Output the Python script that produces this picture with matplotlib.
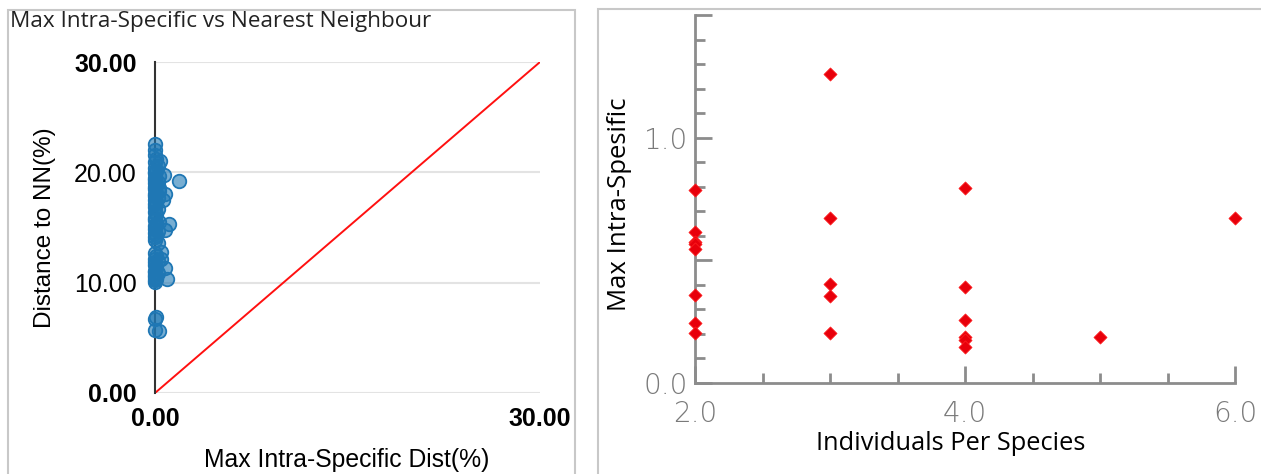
import matplotlib.pyplot as plt
from matplotlib.patches import Rectangle

# ---------------------------------------------------------------------------
# Data: left panel (max intra-specific vs nearest neighbour distance, %)
# ---------------------------------------------------------------------------
nn_x = [0.0, 0.0, 0.0, 0.1, 0.0, 0.2, 0.0, 0.1, 0.0, 0.3, 0.0, 0.0, 0.2, 0.1,
        0.0, 0.0, 0.3, 0.1, 0.0, 0.2, 0.0, 0.1, 0.0, 0.0, 0.2, 0.0, 0.1, 0.0,
        0.0, 0.3, 0.1, 0.0, 0.0, 0.2, 0.0, 0.1, 0.0, 0.0, 0.2, 0.0, 0.1, 0.0,
        0.0, 0.0, 0.1, 0.0, 0.2, 0.0, 0.0, 0.1, 0.0, 0.0, 0.2, 0.0, 0.1, 0.0,
        0.0, 0.0, 0.1, 0.0, 0.0, 0.3,
        1.9, 0.7, 0.8, 1.1, 0.8, 0.5, 0.5, 0.8, 0.9, 0.6, 0.4, 0.3]
nn_y = [22.6, 22.0, 21.6, 21.2, 20.9, 20.6, 20.4, 20.1, 19.9, 19.7, 19.5, 19.3,
        19.1, 18.9, 18.7, 18.5, 18.3, 18.1, 17.9, 17.7, 17.5, 17.3, 17.1, 16.9,
        16.7, 16.4, 16.2, 15.9, 15.7, 15.5, 15.3, 15.1, 14.9, 14.7, 14.5, 14.3,
        14.1, 13.9, 13.6, 12.7, 12.4, 12.1, 11.9, 11.6, 11.3, 11.1, 10.9, 10.7,
        10.5, 10.3, 10.2, 10.1, 12.0, 11.0, 10.4, 18.0, 19.0, 20.0,
        6.9, 6.7, 5.7, 5.6,
        19.2, 19.8, 18.0, 15.3, 14.8, 12.8, 12.1, 11.3, 10.3, 17.5, 21.0, 18.6]
line_x = [0, 30]
line_y = [0, 30]
nn_ticks = [0, 10, 20, 30]
nn_ticklabels = ["0.00", "10.00", "20.00", "30.00"]

# ---------------------------------------------------------------------------
# Data: right panel (individuals per species vs max intra-specific)
# ---------------------------------------------------------------------------
ind_x = [2, 2, 2, 2, 2, 2, 2, 2,
         3, 3, 3, 3, 3,
         4, 4, 4, 4, 4, 4,
         5, 6]
ind_y = [0.785, 0.614, 0.575, 0.565, 0.545, 0.358, 0.244, 0.203,
         1.259, 0.672, 0.405, 0.355, 0.202,
         0.794, 0.391, 0.256, 0.188, 0.175, 0.148,
         0.188, 0.672]
ind_xticks = [2, 4, 6]
ind_xticklabels = ["2.0", "4.0", "6.0"]
ind_yticks = [0.0, 0.5, 1.0, 1.5]
ind_yticklabels = ["0.0", "", "1.0", ""]

W, H = 1261, 474
fig = plt.figure(figsize=(W / 100, H / 100), dpi=100)

# panel frames
fig.patches.append(Rectangle((8 / W, -0.02), 567 / W, 1 - 10 / H + 0.02,
                             transform=fig.transFigure, fill=False,
                             edgecolor="#c8c8c8", linewidth=1.5))
fig.patches.append(Rectangle((598 / W, -0.02), 700 / W, 1 - 9 / H + 0.02,
                             transform=fig.transFigure, fill=False,
                             edgecolor="#c8c8c8", linewidth=1.5))

# ---- left panel ----
ax1 = fig.add_axes([155 / W, 81 / H, 385 / W, 331 / H])
ax1.set_xlim(0, 30)
ax1.set_ylim(0, 30)
for yv in nn_ticks:
    ax1.axhline(yv, color="#e3e3e3", linewidth=1.5, zorder=0)
ax1.plot(line_x, line_y, color="#ff1010", linewidth=1.4, zorder=2)
ax1.scatter(nn_x, nn_y, s=95, facecolor=(0.12, 0.47, 0.71, 0.6),
            edgecolor="#1f77b4", linewidth=1.3, zorder=3, clip_on=False)
for s in ("top", "right", "bottom"):
    ax1.spines[s].set_visible(False)
ax1.spines["left"].set_color("#333333")
ax1.spines["left"].set_linewidth(1.5)
ax1.set_xticks([0, 30])
ax1.set_yticks(nn_ticks)
ax1.set_xticklabels(["0.00", "30.00"], fontsize=18, fontweight="bold",
                    family="Liberation Sans")
ax1.set_yticklabels(nn_ticklabels, fontsize=18, family="Liberation Sans")
for i in (0, 3):
    ax1.get_yticklabels()[i].set_fontweight("bold")
ax1.tick_params(length=0)
ax1.tick_params(axis="y", pad=13)
ax1.tick_params(axis="x", pad=10)
fig.text(45 / W, 1 - 228 / H, "Distance to NN(%)", fontsize=17.5,
         family="Liberation Sans", rotation=90, ha="center", va="center")
fig.text(347 / W, 1 - 460 / H, "Max Intra-Specific Dist(%)", fontsize=17.8,
         family="Liberation Sans", ha="center", va="center")
fig.text(10 / W, 1 - 22 / H, "Max Intra-Specific vs Nearest Neighbour",
         fontsize=16.2, family="Open Sans", color="#222222", va="center")

# ---- right panel ----
gray = "#8c8c8c"
ax2 = fig.add_axes([695 / W, 91 / H, 540 / W, 368 / H])
ax2.set_xlim(2, 6)
ax2.set_ylim(0, 1.5)
ax2.scatter(ind_x, ind_y, marker="D", s=45, color="#e8000b",
            edgecolor="#ff2020", linewidth=0.5, zorder=3, clip_on=False)
for s in ("top", "right"):
    ax2.spines[s].set_visible(False)
for s in ("left", "bottom"):
    ax2.spines[s].set_color(gray)
    ax2.spines[s].set_linewidth(2)
ax2.set_xticks(ind_xticks)
ax2.set_xticks([2.5, 3, 3.5, 4.5, 5, 5.5], minor=True)
ax2.set_yticks(ind_yticks)
ax2.set_yticks([0.1, 0.2, 0.3, 0.4, 0.6, 0.7, 0.8, 0.9,
                1.1, 1.2, 1.3, 1.4], minor=True)
ax2.set_xticklabels(ind_xticklabels)
ax2.set_yticklabels(ind_yticklabels)
ax2.tick_params(which="both", direction="in", color=gray, width=2,
                labelcolor="#7a7a7a", labelsize=20)
ax2.tick_params(which="major", length=12)
ax2.tick_params(which="minor", length=7)
ax2.tick_params(axis="x", pad=12)
ax2.tick_params(axis="y", pad=5)
for lab in ax2.get_xticklabels() + ax2.get_yticklabels():
    lab.set_family("DejaVu Sans")
    lab.set_fontweight("light")
fig.text(951 / W, 1 - 443 / H, "Individuals Per Species", fontsize=18.3,
         family="Open Sans", ha="center", va="center")
fig.text(620 / W, 1 - 204 / H, "Max Intra-Spesific", fontsize=18.5,
         family="Open Sans", rotation=90, ha="center", va="center")

fig.savefig("out.png", dpi=100)
